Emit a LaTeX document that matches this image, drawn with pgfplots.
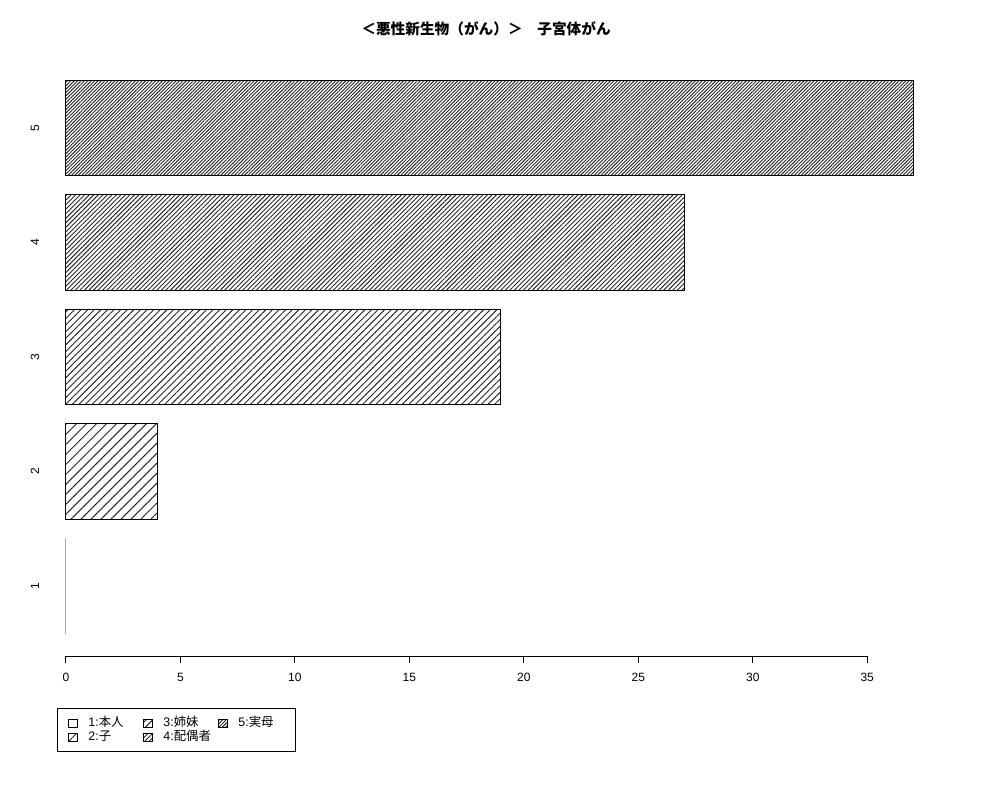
\documentclass[border=0pt]{standalone}
\usepackage{fontspec}
\setmainfont{Liberation Sans}
\newfontfamily\cjk{Noto Sans CJK JP}
\usepackage{pgfplots}
\pgfplotsset{compat=1.18}
\usetikzlibrary{patterns.meta}

\tikzset{
  hatch/.style={pattern={Lines[angle=45, distance=#1, line width=0.7pt]}, pattern color=black!85},
}

\begin{document}
\begin{tikzpicture}
\path[use as bounding box] (-49.5pt,-108pt) rectangle (700.5pt,492pt);
\begin{axis}[
    at={(0,0)}, anchor=south west,
    scale only axis, width=635.25pt, height=448.5pt,
    xmin=0, xmax=37, ymin=-0.032, ymax=6.232,
    clip=false,
    xbar, bar shift=0pt, bar width=1,
    axis line style={draw=none},
    xtick={0,5,...,35}, xtick pos=bottom, xtick align=outside,
    major tick length=5.25pt,
    xtick style={draw=black, line width=0.75pt},
    ytick={0.7,1.9,3.1,4.3,5.5}, yticklabels={1,2,3,4,5},
    ytick style={draw=none},
    tick label style={font=\fontsize{9}{10}\selectfont},
    /pgf/number format/assume math mode=true,
    xticklabel style={anchor=north, inner sep=0pt, yshift=-7.5pt},
    yticklabel style={rotate=90, anchor=center},
    yticklabel shift=18pt,
    legend columns=3,
    legend cell align=left,
    legend image code/.code={
        \draw[#1, line width=0.5pt] (0pt,-3pt) rectangle (6.75pt,3pt);
    },
    legend style={
        at={(axis description cs:0,0)}, anchor=north west,
        xshift=-6.75pt, yshift=-39pt,
        draw=black, line width=0.75pt,
        font=\fontsize{9.3}{10}\selectfont,
        inner xsep=8pt, inner ysep=7pt,
        row sep=2.5pt,
        nodes={inner sep=0pt, text height=6.5pt, text depth=1.5pt},
        /tikz/every odd column/.append style={column sep=8pt},
        /tikz/every even column/.append style={column sep=6.5pt},
    },
]
% order 1,3,5,2,4 so the legend reads by columns like the original
\addplot[draw=black, line width=0.75pt, fill=none] coordinates {(0,0.7)};
\addlegendentry{\makebox[34.5pt][l]{1:{\cjk 本人}}}
\addplot[draw=black, line width=0.75pt, hatch=3.5pt] coordinates {(19,3.1)};
\addlegendentry{\makebox[34.5pt][l]{3:{\cjk 姉妹}}}
\addplot[draw=black, line width=0.75pt, hatch=1.8pt] coordinates {(37,5.5)};
\addlegendentry{\makebox[34.5pt][l]{5:{\cjk 実母}}}
\addplot[draw=black, line width=0.75pt, hatch=5.3pt] coordinates {(4,1.9)};
\addlegendentry{\makebox[34.5pt][l]{2:{\cjk 子}}}
\addplot[draw=black, line width=0.75pt, hatch=2.4pt] coordinates {(27,4.3)};
\addlegendentry{\makebox[34.5pt][l]{4:{\cjk 配偶者}}}

\draw[line width=0.75pt] (axis cs:0,-0.032) -- (axis cs:35,-0.032);
\end{axis}
\node[font=\cjk\bfseries\fontsize{11}{13}\selectfont] at (315pt,470.25pt)
    {＜悪性新生物（がん）＞　子宮体がん};
\end{tikzpicture}
\end{document}
